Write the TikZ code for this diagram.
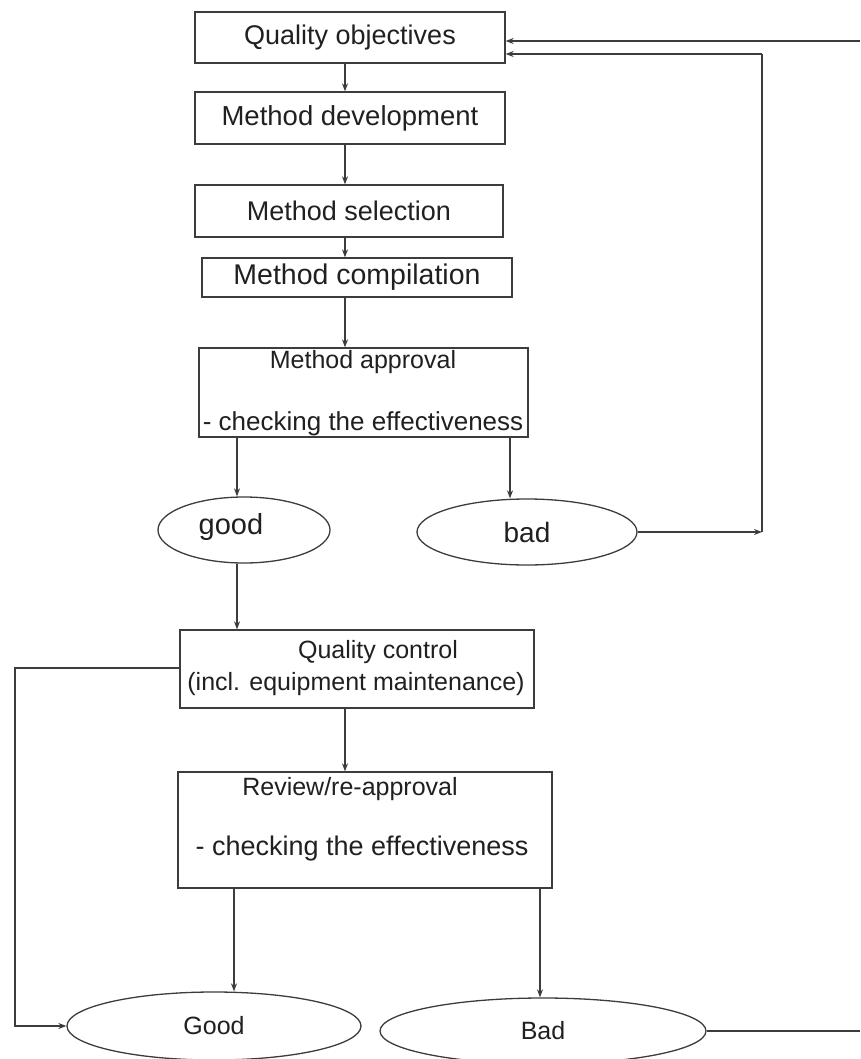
\documentclass[tikz,border=0pt]{standalone}
\usepackage{fontspec}
\setmainfont{Liberation Sans}
\usetikzlibrary{arrows.meta,shapes.geometric}
\definecolor{linegray}{HTML}{3C3C3C}
\definecolor{textgray}{HTML}{202020}
\begin{document}
\begin{tikzpicture}[x=1pt,y=-1pt,
  conn/.style={draw=linegray, line width=1.3pt},
  arr/.style={conn, -{Stealth[length=8pt,width=6pt]}},
  box/.style={draw=linegray, line width=1.3pt, rectangle, inner sep=0pt, text=textgray},
  oval/.style={draw=linegray, line width=1.3pt, ellipse, inner sep=0pt, text=textgray},
  lbl/.style={inner sep=0pt, text=textgray},
  fA/.style={font=\fontsize{27}{30}\selectfont},
  fB/.style={font=\fontsize{25}{28}\selectfont}]
\useasboundingbox (0,0) rectangle (860,1059);

% column coordinates
\coordinate (xa) at (345,0);
\coordinate (xl) at (237,0);
\coordinate (xr) at (510,0);
\coordinate (xv) at (762,0);
\coordinate (xgl) at (234,0);
\coordinate (xgr) at (540,0);

% top boxes
\node[box, fA, minimum width=310pt, minimum height=51pt] (qo) at (350,37.5) {Quality objectives};
\node[box, minimum width=310pt, minimum height=52pt, font=\fontsize{27.5}{30}\selectfont] (md) at (350,118) {Method development};
\node[box, fA, minimum width=308pt, minimum height=52pt] (ms) at (349,211) {Method selection};
\node[box, minimum width=310pt, minimum height=39pt, font=\fontsize{28.5}{30}\selectfont] (mc) at (357,277.5) {Method compilation};

% method approval
\node[box, minimum width=329pt, minimum height=89pt] (ma) at (363.5,392.5) {};
\node[lbl, fB] (mat1) at (363,362) {Method approval};
\node[lbl, font=\fontsize{26}{28}\selectfont] (mat2) at (363,424) {- checking the effectiveness};

% good / bad
\node[oval, minimum width=172pt, minimum height=66pt] (good) at (244,530) {};
\node[lbl, font=\fontsize{29}{30}\selectfont] (goodt) at (231,527) {good};
\node[oval, font=\fontsize{28}{30}\selectfont, minimum width=220pt, minimum height=66pt] (bad) at (527,532) {bad};

% quality control
\node[box, minimum width=354pt, minimum height=78pt] (qc) at (357,669) {};
\node[lbl, fB] (qct1) at (378,652) {Quality control};
\node[lbl, fB] (qct2) at (356,684) {(incl. equipment maintenance)};

% review
\node[box, minimum width=374pt, minimum height=116pt] (rv) at (365,830) {};
\node[lbl, fB] (rvt1) at (350,789) {Review/re-approval};
\node[lbl, font=\fontsize{27}{30}\selectfont] (rvt2) at (362,849) {- checking the effectiveness};

% Good / Bad
\node[oval, fB, minimum width=294pt, minimum height=68pt] (good2) at (214,1026) {Good};
\node[oval, fB, minimum width=326pt, minimum height=66pt] (bad2) at (543,1031) {Bad};

% edge coordinates
\coordinate (edgeT) at (860,41);
\coordinate (edgeB) at (860,1036);
\coordinate (loopT) at (762,54);
\coordinate (qcL) at (15,668);

% chain arrows
\draw[arr] (qo.south -| xa) -- (md.north -| xa);
\draw[arr] (md.south -| xa) -- (ms.north -| xa);
\draw[arr] (ms.south -| xa) -- (mc.north -| xa);
\draw[arr] (mc.south -| xa) -- (ma.north -| xa);
\draw[arr] (ma.south -| xl) -- (good.north -| xl);
\draw[arr] (ma.south -| xr) -- (bad.north -| xr);

% bad loop back
\draw[arr] (bad.east) -- (bad.east -| xv);
\draw[conn] (bad.east -| xv) -- (loopT);
\draw[arr] (loopT) -- (loopT -| qo.east);
\draw[arr] (edgeT) -- (edgeT -| qo.east);

% good to quality control
\draw[arr] (good.south -| xl) -- (qc.north -| xl);
\draw[arr] (qc.south -| xa) -- (rv.north -| xa);
\draw[arr] (qc.west |- qcL) -- (qcL) -- (qcL |- good2.west) -- (good2.west);

% review to outcomes
\draw[arr] (rv.south -| xgl) -- (good2.north -| xgl);
\draw[arr] (rv.south -| xgr) -- (bad2.north -| xgr);
\draw[conn] (bad2.east) -- (edgeB |- bad2.east);
\end{tikzpicture}
\end{document}
